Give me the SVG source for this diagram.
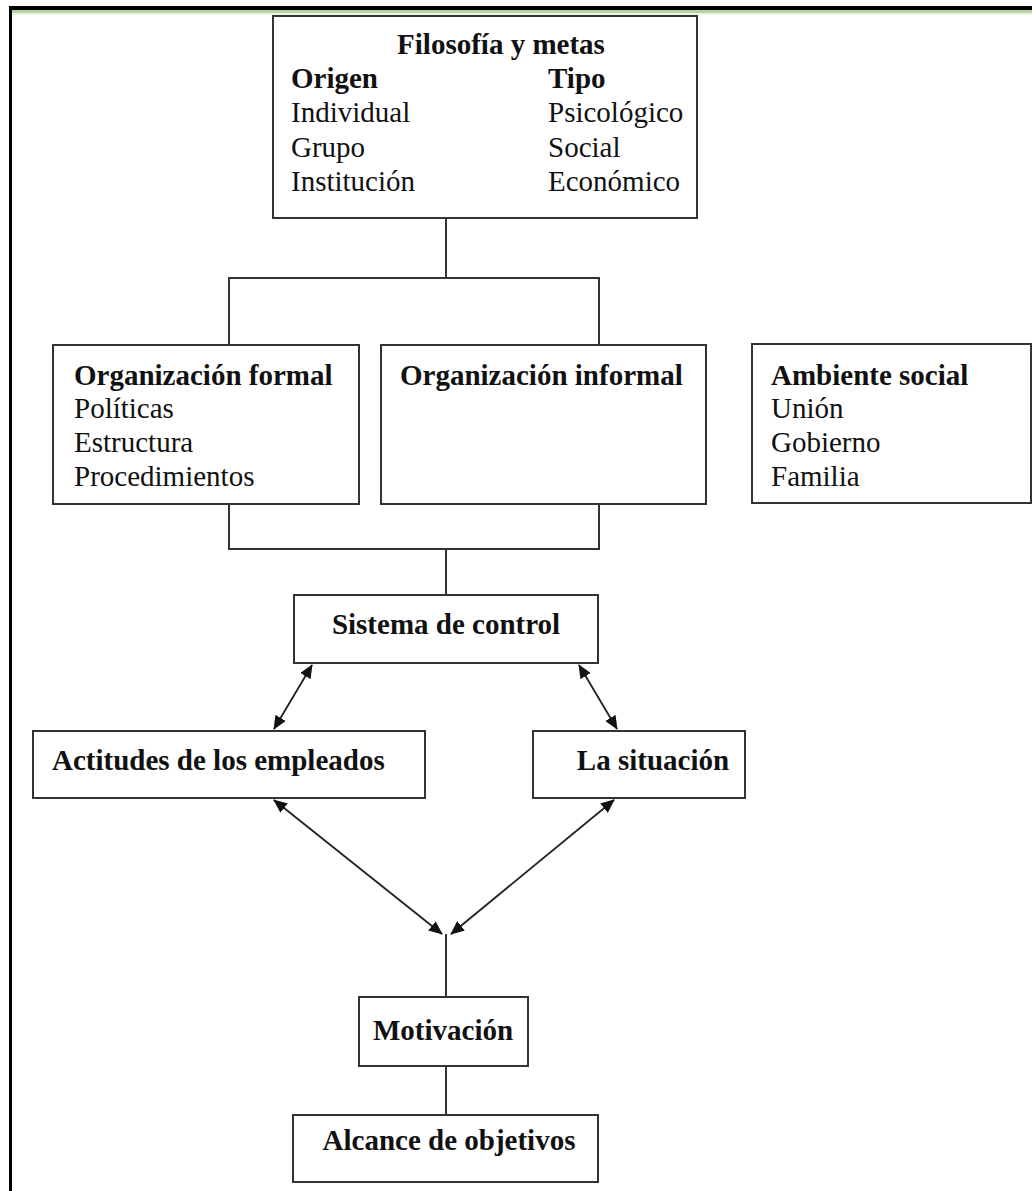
<svg xmlns="http://www.w3.org/2000/svg" width="1032" height="1191" viewBox="0 0 1032 1191">
<defs>
<style>
.box{fill:#fff;stroke:#333;stroke-width:2}
.ln{fill:none;stroke:#333;stroke-width:2}
.ar{fill:none;stroke:#222;stroke-width:1.8;marker-start:url(#ah);marker-end:url(#ah)}
text{font-family:"Liberation Serif","Times New Roman",serif;font-size:29px;fill:#111}
.b{font-weight:bold}
.c{text-anchor:middle}
</style>
<marker id="ah" viewBox="0 0 14 12" refX="13" refY="6" markerWidth="14" markerHeight="12" markerUnits="userSpaceOnUse" orient="auto-start-reverse">
<path d="M0,0 L14,6 L0,12 Z" fill="#111"/>
</marker>
</defs>
<rect x="0" y="0" width="1032" height="1191" fill="#fff"/>
<g id="frame">
<rect x="9" y="6" width="1023" height="4" fill="#000"/>
<rect x="12" y="10" width="1020" height="3" fill="#b5d6a0"/>
<rect x="12" y="13" width="1020" height="2" fill="#eef3ea"/>
<rect x="9" y="6" width="3" height="1185" fill="#000"/>
</g>
<g id="connectors">
<path class="ln" d="M446,218 V278 M229,345 V278 H599 V345"/>
<path class="ln" d="M229,504 V549 H599 V504 M446,549 V595"/>
<line class="ar" x1="312" y1="665" x2="274" y2="729"/>
<line class="ar" x1="579" y1="665" x2="617" y2="729"/>
<line class="ar" x1="274" y1="800" x2="442" y2="934"/>
<line class="ar" x1="614" y1="800" x2="451" y2="934"/>
<path class="ln" d="M446,934 V997 M446,1066 V1115"/>
</g>
<g id="filosofia">
<rect class="box" x="273" y="16" width="424" height="202"/>
<text class="b c" x="501" y="54">Filosofía y metas</text>
<text class="b" x="291" y="88">Origen</text>
<text x="291" y="122">Individual</text>
<text x="291" y="157">Grupo</text>
<text x="291" y="191">Institución</text>
<text class="b" x="548" y="88">Tipo</text>
<text x="548" y="122">Psicológico</text>
<text x="548" y="157">Social</text>
<text x="548" y="191">Económico</text>
</g>
<g id="org-formal">
<rect class="box" x="53" y="345" width="306" height="159"/>
<text class="b" x="74" y="385">Organización formal</text>
<text x="74" y="418">Políticas</text>
<text x="74" y="452">Estructura</text>
<text x="74" y="486">Procedimientos</text>
</g>
<g id="org-informal">
<rect class="box" x="381" y="345" width="325" height="159"/>
<text class="b" x="400" y="385">Organización informal</text>
</g>
<g id="ambiente">
<rect class="box" x="752" y="344" width="279" height="159"/>
<text class="b" x="771" y="385">Ambiente social</text>
<text x="771" y="418">Unión</text>
<text x="771" y="452">Gobierno</text>
<text x="771" y="486">Familia</text>
</g>
<g id="sistema">
<rect class="box" x="294" y="595" width="304" height="68"/>
<text class="b c" x="446" y="634">Sistema de control</text>
</g>
<g id="actitudes">
<rect class="box" x="33" y="731" width="392" height="67"/>
<text class="b" x="52" y="770">Actitudes de los empleados</text>
</g>
<g id="situacion">
<rect class="box" x="533" y="731" width="212" height="67"/>
<text class="b c" x="653" y="770">La situación</text>
</g>
<g id="motivacion">
<rect class="box" x="359" y="997" width="169" height="69"/>
<text class="b c" x="443" y="1040">Motivación</text>
</g>
<g id="alcance">
<rect class="box" x="293" y="1115" width="305" height="67"/>
<text class="b c" x="449" y="1150">Alcance de objetivos</text>
</g>
</svg>
